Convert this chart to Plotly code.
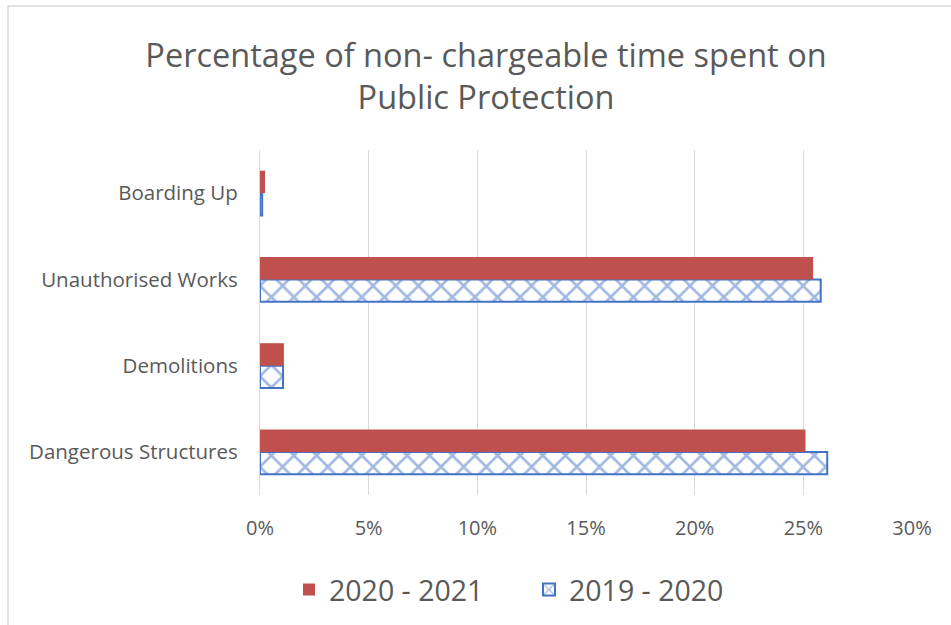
import plotly.graph_objects as go

categories = ["Dangerous Structures", "Demolitions", "Unauthorised Works", "Boarding Up"]
values_2021 = [25.1, 1.1, 25.45, 0.23]
values_2020 = [26.1, 1.06, 25.8, 0.1]
tick_vals = [0, 5, 10, 15, 20, 25, 30]
tick_text = ["0%", "5%", "10%", "15%", "20%", "25%", "30%"]

FONT = "Open Sans"
GREY = "#595959"

fig = go.Figure()
fig.add_trace(go.Bar(
    y=categories, x=values_2020, orientation="h", name="2019 - 2020",
    marker=dict(color="white", line=dict(color="#4472C4", width=2),
                pattern=dict(shape="x", fgcolor="#4472C4", bgcolor="white", size=16, solidity=0.3)),
))
fig.add_trace(go.Bar(
    y=categories, x=values_2021, orientation="h", name="2020 - 2021",
    marker=dict(color="#C0504D", line=dict(width=0)),
))

fig.update_layout(
    width=951, height=625,
    barmode="group", bargap=0.48, bargroupgap=0,
    plot_bgcolor="white", paper_bgcolor="white",
    margin=dict(l=260, r=39, t=150, b=130, autoexpand=False),
    title=dict(text="Percentage of non- chargeable time spent on<br>Public Protection",
               x=486 / 951, xref="container", xanchor="center", y=1 - 67 / 625, yanchor="middle",
               font=dict(family=FONT, size=32.5, color=GREY)),
    xaxis=dict(range=[0, 30], tickvals=tick_vals, ticktext=tick_text,
               showgrid=True, gridcolor="#D9D9D9", gridwidth=1.3,
               zeroline=False, showline=False, ticks="", ticklabelstandoff=19,
               tickfont=dict(family=FONT, size=20, color=GREY)),
    yaxis=dict(showgrid=False, showline=True, linecolor="#D9D9D9", linewidth=1.3,
               ticks="", ticklabelstandoff=17,
               tickfont=dict(family=FONT, size=20.5, color=GREY)),
    legend=dict(orientation="h", x=289 / 951, xref="container", xanchor="left",
                y=1 - 590 / 625, yref="container", yanchor="middle",
                traceorder="reversed", font=dict(family=FONT, size=28.5, color=GREY),
                itemwidth=30, entrywidth=195, entrywidthmode="pixels"),
    showlegend=True,
)
fig.add_shape(type="rect", xref="paper", yref="paper",
              x0=(8 - 260) / 652, x1=(960 - 260) / 652,
              y0=(495 - 640) / 345, y1=(495 - 6) / 345,
              line=dict(color="#D9D9D9", width=1.5), fillcolor="rgba(0,0,0,0)", layer="below")

fig.write_html("out.html")
